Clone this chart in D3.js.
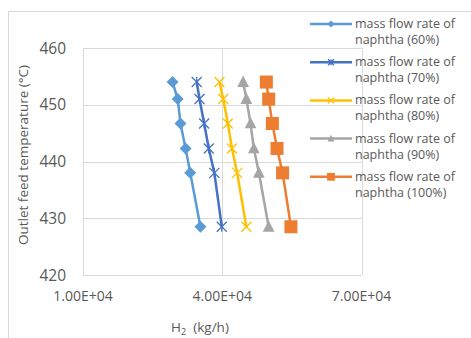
<!DOCTYPE html>
<html>
<head>
<meta charset="utf-8">
<script src="https://cdn.jsdelivr.net/npm/d3@7"></script>
<style>
  body { margin: 0; background: #fff; }
  text { font-family: "Open Sans", "Noto Sans", sans-serif; fill: #595959; }
</style>
</head>
<body>
<div id="chart"></div>
<script>
// outlet temperatures shared by every series (°C)
const temps = [454, 451, 446.7, 442.3, 438, 428.5];
const h2_60 = [29300, 30400, 31000, 32100, 33100, 35300];
const h2_70 = [34500, 35100, 36100, 37100, 38300, 39900];
const h2_80 = [39400, 40200, 41200, 42100, 43200, 45200];
const h2_90 = [44500, 45200, 46100, 46800, 47900, 50000];
const h2_100 = [49500, 50000, 50800, 51800, 53000, 54800];
const seriesNames = ['60%', '70%', '80%', '90%', '100%'];
const xTicks = [10000, 40000, 70000];
const yTicks = [420, 430, 440, 450, 460];

const width = 471, height = 338;
const margin = { left: 83, right: 110, top: 48, bottom: 63 };

const series = [
    { name: seriesNames[0], values: h2_60, color: '#5B9BD5', marker: 'diamond' },
    { name: seriesNames[1], values: h2_70, color: '#4472C4', marker: 'star' },
    { name: seriesNames[2], values: h2_80, color: '#FFC000', marker: 'cross' },
    { name: seriesNames[3], values: h2_90, color: '#A5A5A5', marker: 'triangle' },
    { name: seriesNames[4], values: h2_100, color: '#ED7D31', marker: 'square' }
];

const svg = d3.select('#chart').append('svg')
    .attr('width', width)
    .attr('height', height);

svg.append('rect')
    .attr('x', 8.5).attr('y', 11.5)
    .attr('width', 470).attr('height', 340)
    .attr('fill', '#fff')
    .attr('stroke', '#d9d9d9');

const x = d3.scaleLinear().domain([10000, 70000]).range([margin.left, 361.5]);
const y = d3.scaleLinear().domain([420, 460]).range([275, margin.top]);

// gridlines
svg.append('g').selectAll('line').data(yTicks).join('line')
    .attr('x1', x(10000)).attr('x2', x(70000))
    .attr('y1', d => Math.round(y(d)) + 0.5).attr('y2', d => Math.round(y(d)) + 0.5)
    .attr('stroke', '#d9d9d9');
svg.append('g').selectAll('line').data(xTicks).join('line')
    .attr('x1', d => Math.round(x(d)) + 0.5).attr('x2', d => Math.round(x(d)) + 0.5)
    .attr('y1', y(420)).attr('y2', y(460))
    .attr('stroke', '#d9d9d9');

// tick labels
const fmt = d => d.toExponential(2).toUpperCase().replace(/E\+(\d)$/, 'E+0$1');
svg.append('g').selectAll('text').data(xTicks).join('text')
    .attr('x', d => x(d)).attr('y', 301)
    .attr('text-anchor', 'middle')
    .style('font-size', '14px')
    .text(fmt);
svg.append('g').selectAll('text').data(yTicks).join('text')
    .attr('x', 66).attr('y', d => y(d) + 5.5)
    .attr('text-anchor', 'end')
    .style('font-size', '15.5px')
    .text(d => d);

// axis titles
const xt = svg.append('text')
    .attr('x', 200).attr('y', 332)
    .attr('text-anchor', 'middle')
    .style('font-size', '13.5px');
xt.append('tspan').text('H');
xt.append('tspan').attr('dy', 3).style('font-size', '9px').text('2');
xt.append('tspan').attr('dy', -3).text('\u00a0 (kg/h)');

svg.append('text')
    .attr('transform', 'translate(28,155) rotate(-90)')
    .attr('text-anchor', 'middle')
    .style('font-size', '13.5px')
    .text('Outlet feed temperature (°C)');

function drawMarker(g, type, color, s) {
    if (type === 'diamond') {
        g.append('path').attr('d', `M0,${-s}L${s},0L0,${s}L${-s},0Z`).attr('fill', color);
    } else if (type === 'square') {
        g.append('rect').attr('x', -s).attr('y', -s).attr('width', 2 * s).attr('height', 2 * s).attr('fill', color);
    } else if (type === 'triangle') {
        g.append('path').attr('d', `M0,${-s}L${s * 0.9},${s * 0.75}L${-s * 0.9},${s * 0.75}Z`).attr('fill', color);
    } else {
        let d = `M${-s},${-s}L${s},${s}M${-s},${s}L${s},${-s}`;
        if (type === 'star') d += `M0,${-s}L0,${s}`;
        g.append('path').attr('d', d).attr('stroke', color).attr('stroke-width', 1.3).attr('fill', 'none');
    }
}

const markerSize = { diamond: 6, star: 5, cross: 5, triangle: 6.5, square: 6.5 };
const line = d3.line().x(d => x(d[0])).y(d => y(d[1]));

series.forEach(s => {
    const pts = s.values.map((v, i) => [v, temps[i]]);
    svg.append('path')
        .datum(pts)
        .attr('d', line)
        .attr('fill', 'none')
        .attr('stroke', s.color)
        .attr('stroke-width', 2.5);
    pts.forEach(p => {
        const g = svg.append('g').attr('transform', `translate(${x(p[0])},${y(p[1])})`);
        drawMarker(g, s.marker, s.color, markerSize[s.marker]);
    });
});

// legend
const legend = svg.append('g');
series.forEach((s, i) => {
    const ly = 24 + i * 38.2;
    legend.append('line')
        .attr('x1', 310).attr('x2', 352)
        .attr('y1', ly).attr('y2', ly)
        .attr('stroke', s.color).attr('stroke-width', 2.5);
    const g = legend.append('g').attr('transform', `translate(331,${ly})`);
    drawMarker(g, s.marker, s.color, markerSize[s.marker] * 0.6);
    const t = legend.append('text')
        .attr('x', 355).attr('y', ly + 4)
        .style('font-size', '12.5px');
    t.append('tspan').text('mass flow rate of');
    t.append('tspan').attr('x', 355).attr('dy', 16).text(`naphtha (${s.name})`);
});
</script>
</body>
</html>
